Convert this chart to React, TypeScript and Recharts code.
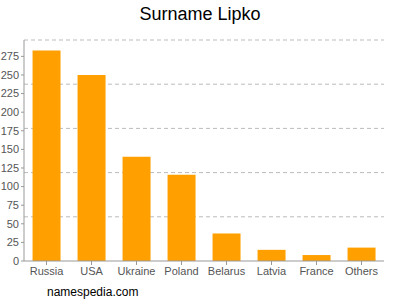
import { BarChart, Bar, XAxis, YAxis, CartesianGrid } from 'recharts';

const countries = ['Russia', 'USA', 'Ukraine', 'Poland', 'Belarus', 'Latvia', 'France', 'Others'];
const counts = [283, 250, 140, 116, 37, 15, 8, 18];
const yTicks = [0, 25, 50, 75, 100, 125, 150, 175, 200, 225, 250, 275];
const yMax = 297;
const gridValues = [59.4, 118.8, 178.2, 237.6, 297];

const data = countries.map((name, i) => ({ name, count: counts[i] }));

const tickStyle = { fontSize: 11, fill: '#555', stroke: 'none', fontFamily: 'Liberation Sans, Arial, sans-serif' };

export default function App() {
  return (
    <div style={{ position: 'absolute', left: 0, top: 0, width: 400, height: 300, background: '#fff' }}>
      <div
        style={{
          position: 'absolute', top: 4, left: 0, width: 400, textAlign: 'center',
          fontFamily: 'Liberation Sans, Arial, sans-serif', fontSize: 18, color: '#000',
        }}
      >
        Surname Lipko
      </div>
      <BarChart
        width={400}
        height={300}
        data={data}
        margin={{ top: 40, right: 16, bottom: 19, left: 0 }}
        barCategoryGap="19%"
      >
        <CartesianGrid
          vertical={false}
          horizontalValues={gridValues}
          stroke="#bbb"
          strokeDasharray="4 3"
        />
        <XAxis
          dataKey="name"
          tick={tickStyle}
          stroke="#999"
          tickSize={4}
          height={20}
        />
        <YAxis
          domain={[0, yMax]}
          ticks={yTicks}
          tick={tickStyle}
          stroke="#999"
          tickSize={3}
          width={24}
          interval={0}
        />
        <Bar dataKey="count" fill="#ffa000" isAnimationActive={false} />
      </BarChart>
      <div
        style={{
          position: 'absolute', top: 285, left: 47,
          fontFamily: 'Liberation Sans, Arial, sans-serif', fontSize: 12, color: '#000',
        }}
      >
        namespedia.com
      </div>
    </div>
  );
}
